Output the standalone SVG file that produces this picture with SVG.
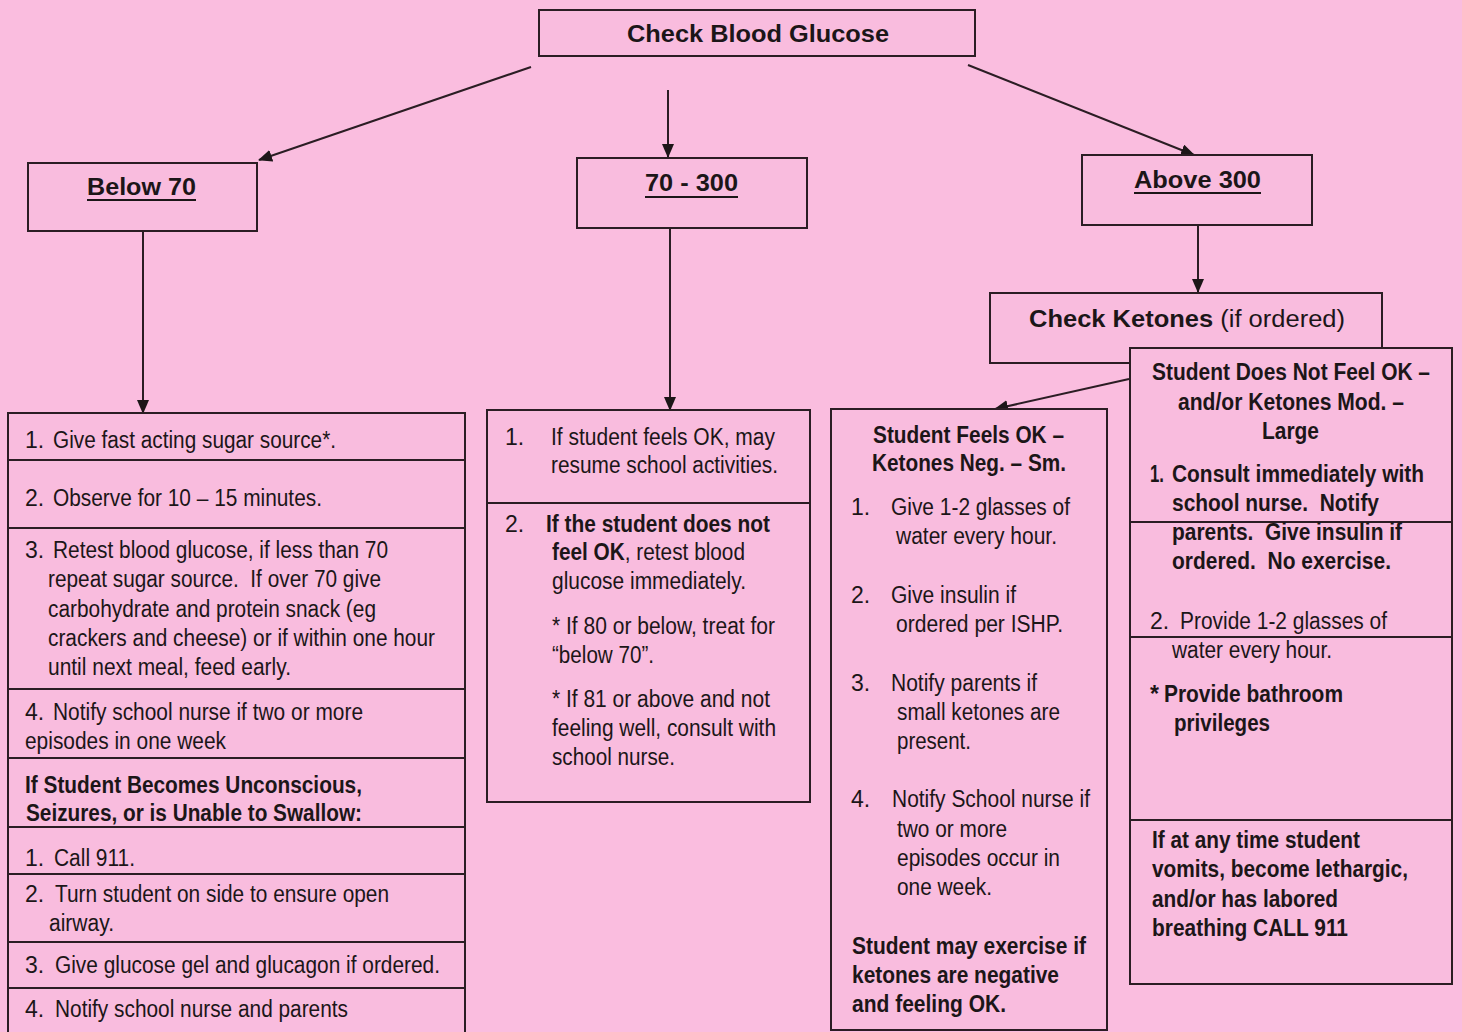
<svg xmlns="http://www.w3.org/2000/svg" width="1462" height="1032" viewBox="0 0 1462 1032">
<defs>
<style>
.bx{fill:#F9BCDE;stroke:#2b1d24;stroke-width:2}
.dv{stroke:#2b1d24;stroke-width:2}
.cn{stroke:#2b1d24;stroke-width:2;fill:none}
text{font-family:"Liberation Sans",Arial,sans-serif;font-size:23px;fill:#1c1618}
.b{font-weight:bold}
.u{stroke:#1c1618;stroke-width:2}
</style>
<marker id="ah" viewBox="0 0 14 12" refX="13" refY="6" markerWidth="14" markerHeight="12" markerUnits="userSpaceOnUse" orient="auto">
<path d="M0,0 L14,6 L0,12 Z" fill="#1c1618"/>
</marker>
</defs>
<rect width="1462" height="1032" fill="#FABDDF"/>

<g id="connectors">
<line class="cn" x1="531" y1="67" x2="259" y2="160" marker-end="url(#ah)"/>
<line class="cn" x1="668" y1="90" x2="668" y2="157" marker-end="url(#ah)"/>
<line class="cn" x1="968" y1="65" x2="1194" y2="155" marker-end="url(#ah)"/>
<line class="cn" x1="143" y1="231" x2="143" y2="413" marker-end="url(#ah)"/>
<line class="cn" x1="670" y1="228" x2="670" y2="410" marker-end="url(#ah)"/>
<line class="cn" x1="1198" y1="225" x2="1198" y2="292" marker-end="url(#ah)"/>
<line class="cn" x1="1129" y1="379" x2="995" y2="409" marker-end="url(#ah)"/>
</g>

<g id="check-blood-glucose">
<rect class="bx" x="539" y="10" width="436" height="46"/>
<text class="b" x="627" y="42" textLength="262" lengthAdjust="spacingAndGlyphs">Check Blood Glucose</text>
</g>

<g id="below-70">
<rect class="bx" x="28" y="163" width="229" height="68"/>
<text class="b" x="87" y="195" textLength="109" lengthAdjust="spacingAndGlyphs">Below 70</text>
<line class="u" x1="87" y1="200" x2="196" y2="200"/>
</g>

<g id="range-70-300">
<rect class="bx" x="577" y="158" width="230" height="70"/>
<text class="b" x="645" y="191" textLength="93" lengthAdjust="spacingAndGlyphs">70 - 300</text>
<line class="u" x1="645" y1="197" x2="738" y2="197"/>
</g>

<g id="above-300">
<rect class="bx" x="1082" y="155" width="230" height="70"/>
<text class="b" x="1134" y="188" textLength="127" lengthAdjust="spacingAndGlyphs">Above 300</text>
<line class="u" x1="1134" y1="193" x2="1261" y2="193"/>
</g>

<g id="below-70-steps">
<rect class="bx" x="8" y="413" width="457" height="630"/>
<line class="dv" x1="8" y1="460" x2="465" y2="460"/>
<line class="dv" x1="8" y1="528" x2="465" y2="528"/>
<line class="dv" x1="8" y1="689" x2="465" y2="689"/>
<line class="dv" x1="8" y1="758" x2="465" y2="758"/>
<line class="dv" x1="8" y1="827" x2="465" y2="827"/>
<line class="dv" x1="8" y1="874" x2="465" y2="874"/>
<line class="dv" x1="8" y1="942" x2="465" y2="942"/>
<line class="dv" x1="8" y1="988" x2="465" y2="988"/>
<text x="25" y="448">1.</text>
<text x="53" y="448" textLength="283" lengthAdjust="spacingAndGlyphs">Give fast acting sugar source*.</text>
<text x="25" y="506">2.</text>
<text x="53" y="506" textLength="269" lengthAdjust="spacingAndGlyphs">Observe for 10 – 15 minutes.</text>
<text x="25" y="558">3.</text>
<text x="53" y="558" textLength="335" lengthAdjust="spacingAndGlyphs">Retest blood glucose, if less than 70</text>
<text x="48" y="587" textLength="333" lengthAdjust="spacingAndGlyphs" xml:space="preserve">repeat sugar source.  If over 70 give</text>
<text x="48" y="617" textLength="328" lengthAdjust="spacingAndGlyphs">carbohydrate and protein snack (eg</text>
<text x="48" y="646" textLength="387" lengthAdjust="spacingAndGlyphs">crackers and cheese) or if within one hour</text>
<text x="48" y="675" textLength="243" lengthAdjust="spacingAndGlyphs">until next meal, feed early.</text>
<text x="25" y="720">4.</text>
<text x="53" y="720" textLength="310" lengthAdjust="spacingAndGlyphs">Notify school nurse if two or more</text>
<text x="25" y="749" textLength="201" lengthAdjust="spacingAndGlyphs">episodes in one week</text>
<text class="b" x="25" y="793" textLength="337" lengthAdjust="spacingAndGlyphs">If Student Becomes Unconscious,</text>
<text class="b" x="26" y="821" textLength="336" lengthAdjust="spacingAndGlyphs">Seizures, or is Unable to Swallow:</text>
<text x="25" y="866">1.</text>
<text x="54" y="866" textLength="81" lengthAdjust="spacingAndGlyphs">Call 911.</text>
<text x="25" y="902">2.</text>
<text x="55" y="902" textLength="334" lengthAdjust="spacingAndGlyphs">Turn student on side to ensure open</text>
<text x="49" y="931" textLength="65" lengthAdjust="spacingAndGlyphs">airway.</text>
<text x="25" y="973">3.</text>
<text x="55" y="973" textLength="385" lengthAdjust="spacingAndGlyphs">Give glucose gel and glucagon if ordered.</text>
<text x="25" y="1017">4.</text>
<text x="55" y="1017" textLength="293" lengthAdjust="spacingAndGlyphs">Notify school nurse and parents</text>
</g>

<g id="range-steps">
<rect class="bx" x="487" y="410" width="323" height="392"/>
<line class="dv" x1="487" y1="503" x2="810" y2="503"/>
<text x="505" y="445">1.</text>
<text x="551" y="445" textLength="224" lengthAdjust="spacingAndGlyphs">If student feels OK, may</text>
<text x="551" y="473" textLength="227" lengthAdjust="spacingAndGlyphs">resume school activities.</text>
<text x="505" y="532">2.</text>
<text class="b" x="546" y="532" textLength="224" lengthAdjust="spacingAndGlyphs">If the student does not</text>
<text x="552" y="560" textLength="193" lengthAdjust="spacingAndGlyphs"><tspan class="b">feel OK</tspan>, retest blood</text>
<text x="552" y="589" textLength="194" lengthAdjust="spacingAndGlyphs">glucose immediately.</text>
<text x="552" y="634" textLength="223" lengthAdjust="spacingAndGlyphs">* If 80 or below, treat for</text>
<text x="552" y="663" textLength="102" lengthAdjust="spacingAndGlyphs">“below 70”.</text>
<text x="552" y="707" textLength="218" lengthAdjust="spacingAndGlyphs">* If 81 or above and not</text>
<text x="552" y="736" textLength="224" lengthAdjust="spacingAndGlyphs">feeling well, consult with</text>
<text x="552" y="765" textLength="123" lengthAdjust="spacingAndGlyphs">school nurse.</text>
</g>

<g id="check-ketones">
<rect class="bx" x="990" y="293" width="392" height="70"/>
<text x="1029" y="327" textLength="316" lengthAdjust="spacingAndGlyphs"><tspan class="b">Check Ketones</tspan> (if ordered)</text>
</g>

<g id="feels-ok">
<rect class="bx" x="831" y="409" width="276" height="621"/>
<text class="b" x="873" y="443" textLength="191" lengthAdjust="spacingAndGlyphs">Student Feels OK –</text>
<text class="b" x="872" y="471" textLength="194" lengthAdjust="spacingAndGlyphs">Ketones Neg. – Sm.</text>
<text x="851" y="515">1.</text>
<text x="891" y="515" textLength="179" lengthAdjust="spacingAndGlyphs">Give 1-2 glasses of</text>
<text x="896" y="544" textLength="161" lengthAdjust="spacingAndGlyphs">water every hour.</text>
<text x="851" y="603">2.</text>
<text x="891" y="603" textLength="125" lengthAdjust="spacingAndGlyphs">Give insulin if</text>
<text x="896" y="632" textLength="167" lengthAdjust="spacingAndGlyphs">ordered per ISHP.</text>
<text x="851" y="691">3.</text>
<text x="891" y="691" textLength="146" lengthAdjust="spacingAndGlyphs">Notify parents if</text>
<text x="897" y="720" textLength="163" lengthAdjust="spacingAndGlyphs">small ketones are</text>
<text x="897" y="749" textLength="74" lengthAdjust="spacingAndGlyphs">present.</text>
<text x="851" y="807">4.</text>
<text x="892" y="807" textLength="198" lengthAdjust="spacingAndGlyphs">Notify School nurse if</text>
<text x="897" y="837" textLength="110" lengthAdjust="spacingAndGlyphs">two or more</text>
<text x="897" y="866" textLength="163" lengthAdjust="spacingAndGlyphs">episodes occur in</text>
<text x="897" y="895" textLength="95" lengthAdjust="spacingAndGlyphs">one week.</text>
<text class="b" x="852" y="954" textLength="234" lengthAdjust="spacingAndGlyphs">Student may exercise if</text>
<text class="b" x="852" y="983" textLength="207" lengthAdjust="spacingAndGlyphs">ketones are negative</text>
<text class="b" x="852" y="1012" textLength="154" lengthAdjust="spacingAndGlyphs">and feeling OK.</text>
</g>

<g id="not-ok">
<rect class="bx" x="1130" y="348" width="322" height="636"/>
<line class="dv" x1="1130" y1="522" x2="1452" y2="522"/>
<line class="dv" x1="1130" y1="637" x2="1452" y2="637"/>
<line class="dv" x1="1130" y1="820" x2="1452" y2="820"/>
<text class="b" x="1152" y="380" textLength="278" lengthAdjust="spacingAndGlyphs">Student Does Not Feel OK –</text>
<text class="b" x="1178" y="410" textLength="226" lengthAdjust="spacingAndGlyphs">and/or Ketones Mod. –</text>
<text class="b" x="1262" y="439" textLength="57" lengthAdjust="spacingAndGlyphs">Large</text>
<text class="b" x="1150" y="482" textLength="14" lengthAdjust="spacingAndGlyphs">1.</text>
<text class="b" x="1172" y="482" textLength="252" lengthAdjust="spacingAndGlyphs">Consult immediately with</text>
<text class="b" x="1172" y="511" textLength="207" lengthAdjust="spacingAndGlyphs" xml:space="preserve">school nurse.  Notify</text>
<text class="b" x="1172" y="540" textLength="230" lengthAdjust="spacingAndGlyphs" xml:space="preserve">parents.  Give insulin if</text>
<text class="b" x="1172" y="569" textLength="219" lengthAdjust="spacingAndGlyphs" xml:space="preserve">ordered.  No exercise.</text>
<text x="1150" y="629">2.</text>
<text x="1180" y="629" textLength="207" lengthAdjust="spacingAndGlyphs">Provide 1-2 glasses of</text>
<text x="1172" y="658" textLength="160" lengthAdjust="spacingAndGlyphs">water every hour.</text>
<text class="b" x="1150" y="702">*</text>
<text class="b" x="1164" y="702" textLength="179" lengthAdjust="spacingAndGlyphs">Provide bathroom</text>
<text class="b" x="1174" y="731" textLength="96" lengthAdjust="spacingAndGlyphs">privileges</text>
<text class="b" x="1152" y="848" textLength="208" lengthAdjust="spacingAndGlyphs">If at any time student</text>
<text class="b" x="1152" y="877" textLength="256" lengthAdjust="spacingAndGlyphs">vomits, become lethargic,</text>
<text class="b" x="1152" y="907" textLength="186" lengthAdjust="spacingAndGlyphs">and/or has labored</text>
<text class="b" x="1152" y="936" textLength="196" lengthAdjust="spacingAndGlyphs">breathing CALL 911</text>
</g>
</svg>
